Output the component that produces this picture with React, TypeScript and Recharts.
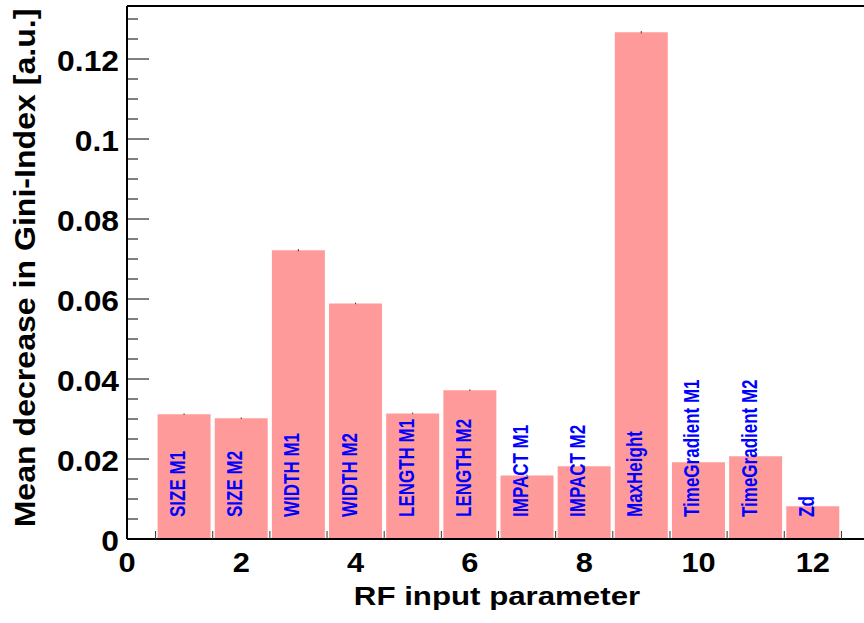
import { Bar, BarChart, ErrorBar, LabelList, ReferenceLine, XAxis, YAxis } from "recharts";

// RF input parameters (one histogram bin each)
const params = [
  "SIZE M1",
  "SIZE M2",
  "WIDTH M1",
  "WIDTH M2",
  "LENGTH M1",
  "LENGTH M2",
  "IMPACT M1",
  "IMPACT M2",
  "MaxHeight",
  "TimeGradient M1",
  "TimeGradient M2",
  "Zd",
];
const binCenters = [1, 2, 3, 4, 5, 6, 7, 8, 9, 10, 11, 12];
const giniDecrease = [
  0.0312, 0.0302, 0.0722, 0.0589, 0.0314, 0.0372, 0.0159, 0.0182, 0.1267, 0.0192, 0.0207, 0.0082,
];
const giniErr = [
  0.0002, 0.0002, 0.0003, 0.0002, 0.0002, 0.0002, 0.0002, 0.0002, 0.0003, 0.0002, 0.0002, 0.0002,
];

const xLabelTicks = [0, 2, 4, 6, 8, 10, 12];
const binEdges = [0.5, 1.5, 2.5, 3.5, 4.5, 5.5, 6.5, 7.5, 8.5, 9.5, 10.5, 11.5, 12.5];
const yLabelTicks = ["0", "0.02", "0.04", "0.06", "0.08", "0.1", "0.12"];
const yMinorStep = 0.005;

const X_MAX = 13;
const Y_MAX = 0.13325;
const FONT = "'Liberation Sans', Arial, Helvetica, sans-serif";

const data = binCenters.map((x, i) => ({
  x,
  name: params[i],
  value: giniDecrease[i],
  err: giniErr[i],
}));

const yTicks: number[] = [];
for (let i = 0; i * yMinorStep <= Y_MAX; i++) {
  yTicks.push(Number((i * yMinorStep).toFixed(4)));
}
const xTicks = [...xLabelTicks, ...binEdges].sort((a, b) => a - b);

function XTick(props: any) {
  const { x, y, payload } = props;
  const v = payload.value;
  if (binEdges.includes(v)) {
    return <line x1={x} x2={x} y1={y} y2={y - 8} stroke="#333" strokeWidth={1} />;
  }
  return (
    <text
      transform={`translate(${x}, ${y + 33}) scale(1.1, 1)`}
      textAnchor="middle"
      fontFamily={FONT}
      fontWeight="bold"
      fontSize={28}
      fill="#000"
    >
      {v}
    </text>
  );
}

function YTick(props: any) {
  const { x, y, payload } = props;
  const v = payload.value;
  const idx = yLabelTicks.findIndex((t) => Math.abs(Number(t) - v) < 1e-6);
  const major = idx >= 0;
  const axisX = x + 8;
  return (
    <g>
      <line x1={axisX} x2={axisX + (major ? 22 : 11)} y1={y} y2={y} stroke="#000" strokeWidth={1} />
      {major && (
        <text
          transform={`translate(${x}, ${y + 12}) scale(1.06, 1)`}
          textAnchor="end"
          fontFamily={FONT}
          fontWeight="bold"
          fontSize={30}
          fill="#000"
        >
          {yLabelTicks[idx]}
        </text>
      )}
    </g>
  );
}

function BinLabel(props: any) {
  const { x, y, width, height, value } = props;
  const cx = x + width / 2 + 1;
  const by = y + height - 22;
  return (
    <text
      transform={`translate(${cx}, ${by}) rotate(-90) scale(1, 1.27)`}
      textAnchor="start"
      fontFamily={FONT}
      fontWeight="bold"
      fontSize={17}
      fill="#0000ff"
    >
      {value}
    </text>
  );
}

export default function App() {
  return (
    <div
      style={{
        position: "absolute",
        left: 0,
        top: 0,
        width: 864,
        height: 623,
        overflow: "hidden",
        background: "#fff",
      }}
    >
      <BarChart
        width={880}
        height={623}
        data={data}
        margin={{ top: 6, right: 10, bottom: 0, left: 1 }}
      >
        <XAxis
          dataKey="x"
          type="number"
          domain={[0, X_MAX]}
          ticks={xTicks}
          interval={0}
          tickSize={0}
          tickMargin={0}
          tickLine={false}
          tick={<XTick />}
          axisLine={{ stroke: "#000", strokeWidth: 2 }}
          height={84}
          allowDataOverflow
        />
        <YAxis
          type="number"
          domain={[0, Y_MAX]}
          ticks={yTicks}
          interval={0}
          tickSize={0}
          tickMargin={8}
          tickLine={false}
          tick={<YTick />}
          axisLine={{ stroke: "#000", strokeWidth: 2 }}
          width={126}
          allowDataOverflow
        />
        <ReferenceLine y={Y_MAX} stroke="#000" strokeWidth={2} />
        <Bar dataKey="value" fill="#ff9a9a" barSize={53} isAnimationActive={false}>
          <ErrorBar dataKey="err" width={0} stroke="#444" strokeWidth={1} direction="y" />
          <LabelList dataKey="name" content={<BinLabel />} />
        </Bar>
        <text
          transform="translate(35, 268) rotate(-90) scale(1.07, 1)"
          textAnchor="middle"
          fontFamily={FONT}
          fontWeight="bold"
          fontSize={30}
          fill="#000"
        >
          Mean decrease in Gini-Index [a.u.]
        </text>
        <text
          transform="translate(497, 605) scale(1.25, 1)"
          textAnchor="middle"
          fontFamily={FONT}
          fontWeight="bold"
          fontSize={25}
          fill="#000"
        >
          RF input parameter
        </text>
      </BarChart>
    </div>
  );
}
